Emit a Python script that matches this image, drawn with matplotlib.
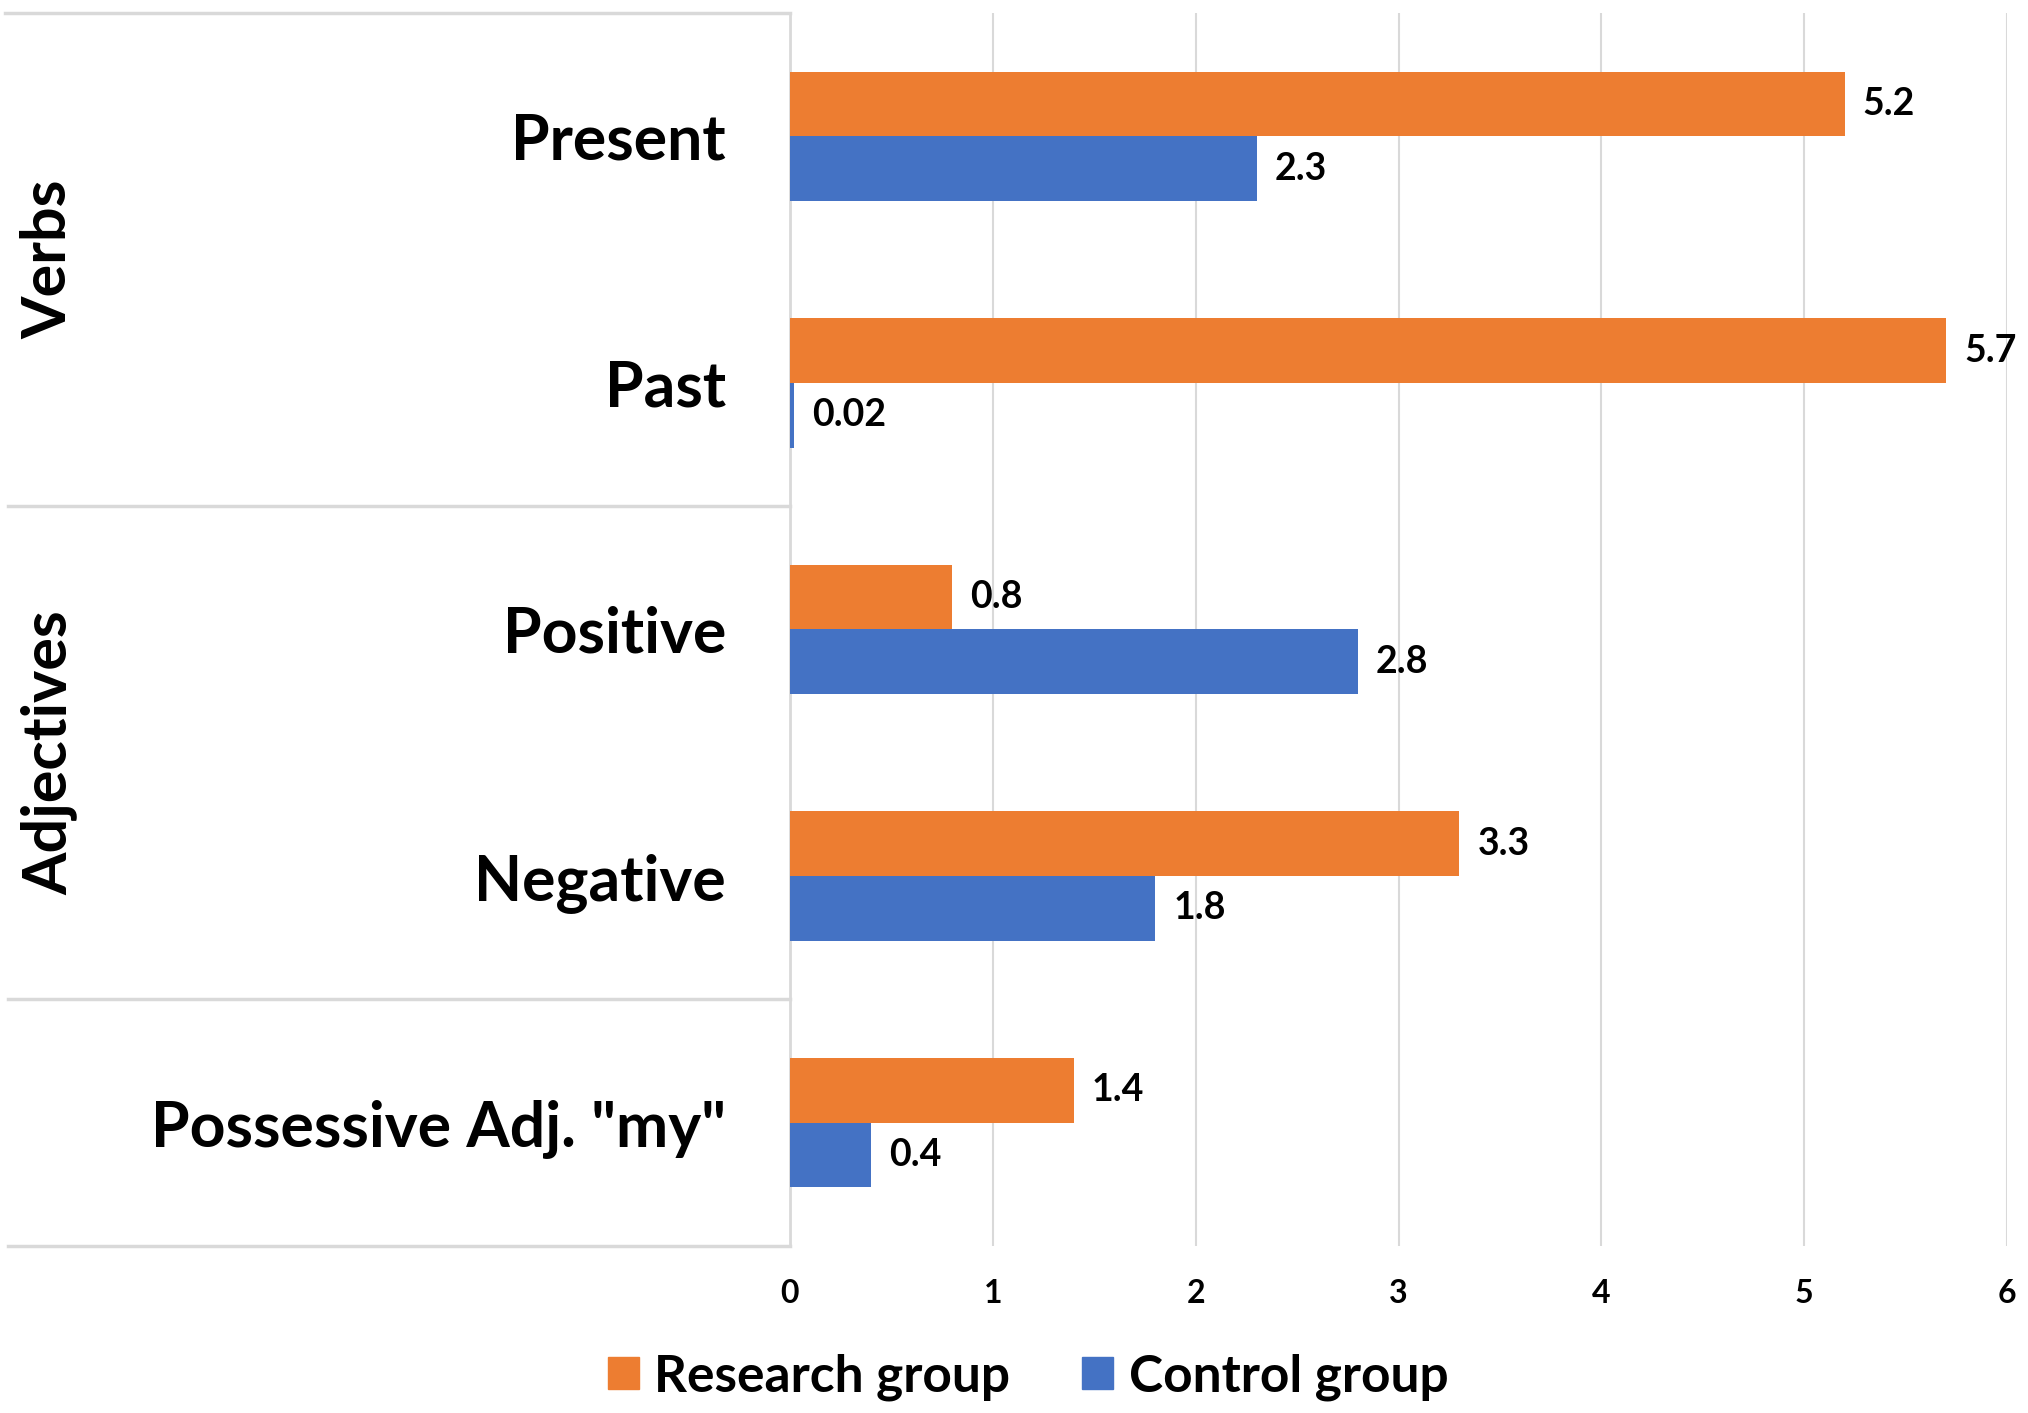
import matplotlib
matplotlib.use('Agg')
import matplotlib.pyplot as plt
from matplotlib.patches import Patch
from matplotlib.transforms import blended_transform_factory

plt.rcParams['font.family'] = ['Lato', 'DejaVu Sans']
plt.rcParams['font.weight'] = 'bold'

# chart data
categories = ['Present', 'Past', 'Positive', 'Negative', 'Possessive Adj. "my"']
groups = ['Verbs', 'Adjectives']
group_centers = [0.5, 2.5]
group_edges = [-0.5, 1.5, 3.5, 4.5]
research = [5.2, 5.7, 0.8, 3.3, 1.4]
control = [2.3, 0.02, 2.8, 1.8, 0.4]
research_labels = ['5.2', '5.7', '0.8', '3.3', '1.4']
control_labels = ['2.3', '0.02', '2.8', '1.8', '0.4']
xticks = [0, 1, 2, 3, 4, 5, 6]

orange = '#ED7D31'
blue = '#4472C4'
grid_col = '#D9D9D9'

fig = plt.figure(figsize=(20.28, 14.13), dpi=100)
ax = fig.add_axes([0.3895, 0.1182, 0.6002, 0.8726])

h = 0.262
ypos = list(range(len(categories)))
ax.barh([y - h / 2 for y in ypos], research, height=h, color=orange, label='Research group', zorder=3)
ax.barh([y + h / 2 for y in ypos], control, height=h, color=blue, label='Control group', zorder=3)

for y, v, t in zip(ypos, research, research_labels):
    ax.annotate(t, (v, y - h / 2), xytext=(13, 0), textcoords='offset points',
                va='center', ha='left', fontsize=27, fontweight='bold')
for y, v, t in zip(ypos, control, control_labels):
    ax.annotate(t, (v, y + h / 2), xytext=(13, 0), textcoords='offset points',
                va='center', ha='left', fontsize=27, fontweight='bold')

ax.set_xlim(0, 6)
ax.set_ylim(4.5, -0.5)
ax.set_xticks(xticks)
ax.set_xticklabels([str(x) for x in xticks], fontsize=23, fontweight='bold')
ax.set_yticks(ypos)
ax.set_yticklabels(categories, fontsize=45, fontweight='bold')
ax.tick_params(axis='y', length=0, pad=46)
ax.tick_params(axis='x', length=0, pad=24)
ax.grid(axis='x', color=grid_col, linewidth=1.5, zorder=0)

for s in ['top', 'right', 'bottom']:
    ax.spines[s].set_visible(False)
ax.spines['left'].set_color(grid_col)
ax.spines['left'].set_linewidth(2)

# category table on the left
tr = blended_transform_factory(ax.transAxes, ax.transData)
for i, e in enumerate(group_edges):
    x0 = -0.642 if i > 0 else -0.645
    ax.plot([x0, 0], [e, e], color=grid_col, linewidth=2.5, transform=tr, clip_on=False)
for g, c in zip(groups, group_centers):
    ax.text(-0.609, c, g, rotation=90, ha='center', va='center', fontsize=44,
            fontweight='bold', transform=tr)

handles = [Patch(color=orange, label='Research group'), Patch(color=blue, label='Control group')]
fig.legend(handles=handles, loc='center', bbox_to_anchor=(0.507, 0.0255), ncol=2, frameon=False,
           fontsize=37, handlelength=0.6, handleheight=0.6, handletextpad=0.3, columnspacing=1.4)

fig.savefig('out.png', dpi=100)
